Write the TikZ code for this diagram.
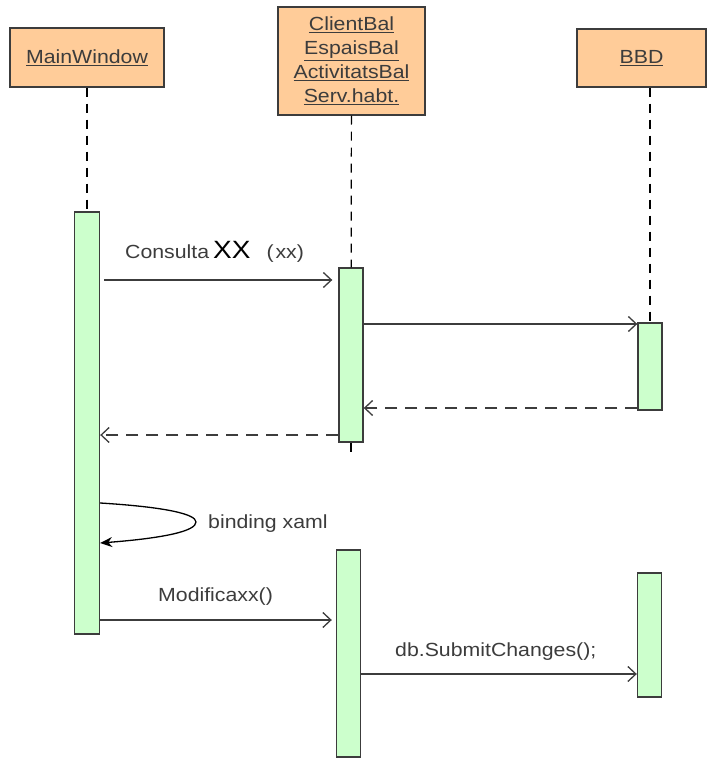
\documentclass[tikz,border=0pt]{standalone}
\usepackage{fontspec}
\setmainfont{Liberation Sans}[FakeStretch=1.12]
\usetikzlibrary{positioning, arrows.meta}
\definecolor{kopf}{RGB}{255,204,153}
\definecolor{balken}{RGB}{204,255,204}
\definecolor{linie}{RGB}{60,60,60}
\tikzset{objekt/.style={rectangle,draw=linie,line width=1.4pt,fill=kopf,inner sep=0,align=center,
		text=linie,font=\fontsize{19}{24}\selectfont},
	aktiv/.style={rectangle,draw=linie,line width=1.4pt,fill=balken,inner sep=0,minimum width=24pt},
	lebenslinie/.style={draw=black,line width=1.2pt,dash pattern=on 9pt off 7pt},
	nachricht/.style={draw=linie,line width=1.3pt,-{Straight Barb[length=8pt,width=15pt]}},
	antwort/.style={nachricht,dash pattern=on 12pt off 8pt},
	beschrift/.style={inner sep=0,text=linie,font=\fontsize{19}{22}\selectfont} }

\begin{document}
\begin{tikzpicture}[x=1pt,y=-1pt]
	\useasboundingbox (0,0) rectangle (712,759);

	% Objekte
	\node (mw) [objekt, minimum width=154pt, minimum height=59pt] at (87,57.5) {\underline{MainWindow}};
	\node (bal) [objekt, minimum width=147pt, minimum height=108pt] at (351.5,61)
		{\underline{ClientBal}\\\underline{EspaisBal}\\\underline{ActivitatsBal}\\\underline{Serv.habt.}};
	\node (bbd) [objekt, minimum width=129pt, minimum height=58pt] at (641.5,58) {\underline{BBD}};

	% Aktivierungsbalken
	\node (mwa) [aktiv, minimum width=25pt, minimum height=422pt] at (87,423) {};
	\node (bala) [aktiv, minimum height=174pt] at (351,355) {};
	\node (balb) [aktiv, minimum height=207pt] at (348.5,653.5) {};
	\node (bbda) [aktiv, minimum height=87pt] at (650,366.5) {};
	\node (bbdb) [aktiv, minimum height=124pt] at (649.5,635) {};

	% Lebenslinien
	\draw [lebenslinie] (mw) -- (mwa);
	\draw [lebenslinie] (bal) -- (bala);
	\draw [lebenslinie] (bala.south) -- ++(0,10);
	\draw [lebenslinie] (bbd.south -| bbda) -- (bbda);

	\coordinate (n1) at (0,280);
	\coordinate (n2) at (0,324);
	\coordinate (n3) at (0,408);
	\coordinate (n4) at (0,435);
	\coordinate (s1) at (0,503);
	\coordinate (s2) at (0,543);
	\coordinate (n5) at (0,620);
	\coordinate (n6) at (0,674);

	% Nachrichten
	\draw [nachricht, shorten <=4pt, shorten >=6pt] (mwa.east |- n1) -- (bala.west |- n1);
	\node (t1) [beschrift, anchor=base west] at (125,258)
		{Consulta\kern4pt{\fontsize{25}{26}\selectfont\color{black}XX}\kern16pt(\kern2pt xx)};
	\draw [nachricht] (bala.east |- n2) -- (bbda.west |- n2);
	\draw [antwort] (bbda.west |- n3) -- (bala.east |- n3);
	\draw [antwort] (bala.west |- n4) -- (mwa.east |- n4);

	\draw [draw=black, line width=1.3pt, -{Stealth[length=12pt,width=10pt]}] (mwa.east |- s1)
		.. controls (165,507) and (196,514) .. (196,522)
		.. controls (196,531) and (165,538) .. (mwa.east |- s2);
	\node (t2) [beschrift, anchor=base west] at (208,528) {binding xaml};

	\draw [nachricht, shorten >=4pt] (mwa.east |- n5) -- (balb.west |- n5);
	\node (t3) [beschrift, anchor=base west] at (158,601) {Modificaxx()};
	\draw [nachricht] (balb.east |- n6) -- (bbdb.west |- n6);
	\node (t4) [beschrift, anchor=base west] at (395,656) {db.SubmitChanges();};
\end{tikzpicture}
\end{document}
